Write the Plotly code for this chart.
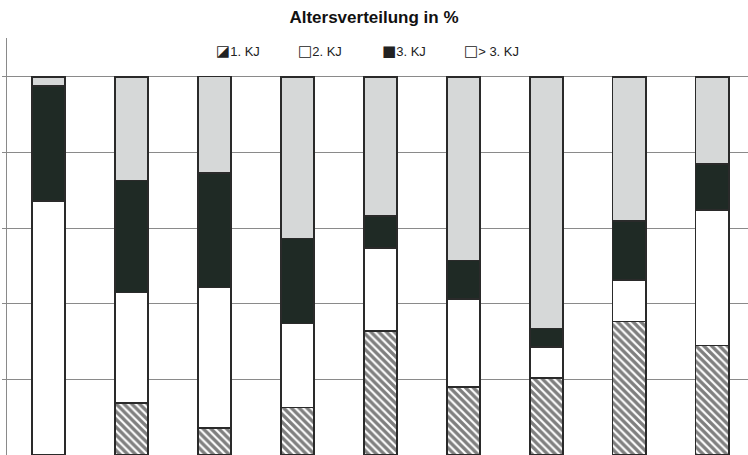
import plotly.graph_objects as go

# Age distribution per group, stacked to 100 %
groups = [1, 2, 3, 4, 5, 6, 7, 8, 9]
kj1 = [0.0, 13.7, 7.1, 12.6, 32.8, 18.0, 20.4, 35.3, 29.0]
kj2 = [67.2, 29.3, 37.2, 22.2, 22.0, 23.2, 8.2, 11.0, 35.8]
kj3 = [30.4, 29.6, 30.3, 22.5, 8.4, 10.2, 4.8, 15.6, 12.2]
kj4 = [2.4, 27.4, 25.5, 42.7, 36.8, 48.6, 66.6, 38.1, 23.0]

legend_labels = ["1. KJ", "2. KJ", "3. KJ", "> 3. KJ"]
legend_icons = ["\u25EA", "\u25A1", "\u25A0", "\u25A1"]

W, H = 748, 455
ML, MT = 7, 38
outline = dict(color="#2a2a2a", width=1.5)

fig = go.Figure()
fig.add_trace(go.Bar(
    x=groups, y=kj1, name=legend_labels[0], width=0.4,
    marker=dict(color="white", line=outline,
                pattern=dict(shape="\\", fgcolor="#000000", bgcolor="white",
                             size=5.5, solidity=0.6)),
))
fig.add_trace(go.Bar(x=groups, y=kj2, name=legend_labels[1], width=0.4,
                     marker=dict(color="white", line=outline)))
fig.add_trace(go.Bar(x=groups, y=kj3, name=legend_labels[2], width=0.4,
                     marker=dict(color="#1f2a25", line=outline)))
fig.add_trace(go.Bar(x=groups, y=kj4, name=legend_labels[3], width=0.4,
                     marker=dict(color="#d6d8d8", line=outline)))

# Legend row drawn as text glyphs above the bars
legend_px = [214, 296, 380, 462]
pw, ph = W - ML, H - MT
annotations = []
for px, icon, lab in zip(legend_px, legend_icons, legend_labels):
    annotations.append(dict(
        xref="paper", yref="paper",
        x=(px - ML) / pw, y=(H - 51) / ph,
        xanchor="left", yanchor="middle",
        text=f"<span style='font-family:DejaVu Sans;font-size:15px'>{icon}</span>{lab}",
        showarrow=False,
        font=dict(family="Liberation Sans, Arial", size=13, color="#222222"),
    ))

fig.update_layout(
    width=W, height=H,
    margin=dict(l=ML, r=0, t=MT, b=0),
    barmode="stack",
    showlegend=False,
    paper_bgcolor="white",
    plot_bgcolor="white",
    title=dict(text="<b>Altersverteilung in %</b>", x=0.5, xanchor="center",
               y=(H - 17) / H, yanchor="middle",
               font=dict(family="Liberation Sans, Arial", size=17, color="#111111")),
    annotations=annotations,
)
fig.update_xaxes(range=[0.5, 9.43], showticklabels=False, showgrid=False,
                 showline=False, zeroline=False, ticks="")
fig.update_yaxes(range=[0, 110.3], tick0=0, dtick=20, showticklabels=False,
                 showgrid=True, gridcolor="#8a8a8a", gridwidth=1,
                 showline=True, linecolor="#8a8a8a", linewidth=1,
                 ticks="outside", ticklen=4, tickcolor="#8a8a8a",
                 zeroline=False)

fig.write_html("out.html")
